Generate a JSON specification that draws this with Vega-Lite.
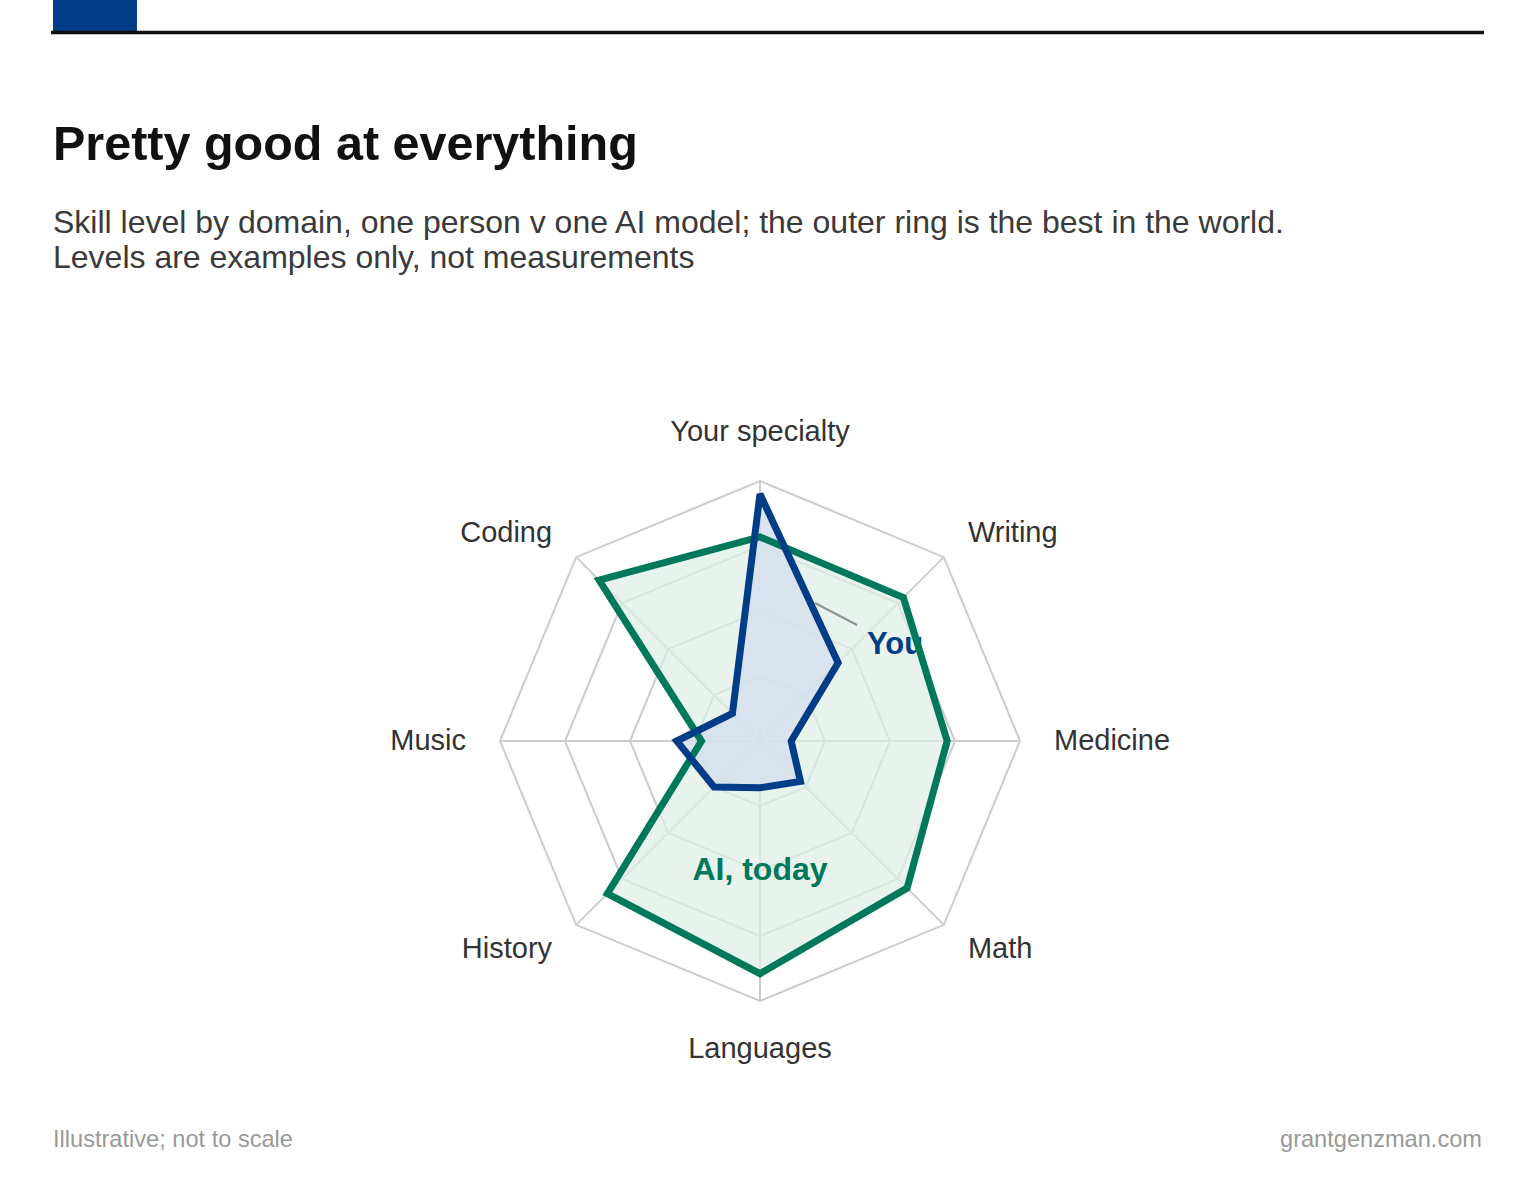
{
  "$schema": "https://vega.github.io/schema/vega-lite/v6.json",
  "width": 1430,
  "height": 860,
  "autosize": {"type": "none"},
  "padding": {"left": 53, "right": 37, "top": 300, "bottom": 20},
  "background": "white",
  "config": {"view": {"stroke": null}, "font": "Liberation Sans"},
  "title": {
    "text": "Pretty good at everything",
    "subtitle": [
      "Skill level by domain, one person v one AI model; the outer ring is the best in the world.",
      "Levels are examples only, not measurements"
    ],
    "anchor": "start",
    "frame": "group",
    "font": "Liberation Sans",
    "fontSize": 48.5,
    "fontWeight": "bold",
    "color": "#111111",
    "subtitleFont": "Liberation Sans",
    "subtitleFontSize": 32,
    "subtitleColor": "#3a3a3a",
    "subtitleLineHeight": 35,
    "subtitlePadding": 38,
    "offset": -275
  },
  "datasets": {
    "skills": [
      {"domain": "Your specialty", "k": 0, "You": 95, "AI": 78.5},
      {"domain": "Writing", "k": 1, "You": 42.5, "AI": 78},
      {"domain": "Medicine", "k": 2, "You": 12, "AI": 72},
      {"domain": "Math", "k": 3, "You": 22, "AI": 80},
      {"domain": "Languages", "k": 4, "You": 18, "AI": 89.5},
      {"domain": "History", "k": 5, "You": 25, "AI": 83},
      {"domain": "Music", "k": 6, "You": 32, "AI": 22.5},
      {"domain": "Coding", "k": 7, "You": 15, "AI": 87.5}
    ],
    "rings": [
      {"k": 0, "ring": 25}, {"k": 1, "ring": 25}, {"k": 2, "ring": 25}, {"k": 3, "ring": 25},
      {"k": 4, "ring": 25}, {"k": 5, "ring": 25}, {"k": 6, "ring": 25}, {"k": 7, "ring": 25},
      {"k": 0, "ring": 50}, {"k": 1, "ring": 50}, {"k": 2, "ring": 50}, {"k": 3, "ring": 50},
      {"k": 4, "ring": 50}, {"k": 5, "ring": 50}, {"k": 6, "ring": 50}, {"k": 7, "ring": 50},
      {"k": 0, "ring": 75}, {"k": 1, "ring": 75}, {"k": 2, "ring": 75}, {"k": 3, "ring": 75},
      {"k": 4, "ring": 75}, {"k": 5, "ring": 75}, {"k": 6, "ring": 75}, {"k": 7, "ring": 75},
      {"k": 0, "ring": 100}, {"k": 1, "ring": 100}, {"k": 2, "ring": 100}, {"k": 3, "ring": 100},
      {"k": 4, "ring": 100}, {"k": 5, "ring": 100}, {"k": 6, "ring": 100}, {"k": 7, "ring": 100}
    ],
    "notes": [
      {"label": "You"},
      {"label": "AI, today"},
      {"label": "Illustrative; not to scale"},
      {"label": "grantgenzman.com"}
    ]
  },
  "layer": [
    {
      "data": {"name": "rings"},
      "transform": [
        {"calculate": "datum.k * PI / 4", "as": "a"},
        {"calculate": "datum.ring * sin(datum.a)", "as": "x"},
        {"calculate": "datum.ring * cos(datum.a)", "as": "y"}
      ],
      "mark": {"type": "line", "interpolate": "linear-closed", "stroke": "#cccccc", "strokeWidth": 2},
      "encoding": {
        "x": {"field": "x", "type": "quantitative", "axis": null,
              "scale": {"domain": [-271.92, 278.08], "nice": false, "zero": false}},
        "y": {"field": "y", "type": "quantitative", "axis": null,
              "scale": {"domain": [-161.15, 169.62], "nice": false, "zero": false}},
        "detail": {"field": "ring"},
        "order": {"field": "k"}
      }
    },
    {
      "data": {"name": "skills"},
      "transform": [
        {"calculate": "datum.k * PI / 4", "as": "a"},
        {"calculate": "100 * sin(datum.a)", "as": "x"},
        {"calculate": "100 * cos(datum.a)", "as": "y"}
      ],
      "mark": {"type": "rule", "stroke": "#cccccc", "strokeWidth": 2},
      "encoding": {
        "x": {"field": "x", "type": "quantitative", "axis": null,
              "scale": {"domain": [-271.92, 278.08], "nice": false, "zero": false}},
        "y": {"field": "y", "type": "quantitative", "axis": null,
              "scale": {"domain": [-161.15, 169.62], "nice": false, "zero": false}},
        "x2": {"datum": 0},
        "y2": {"datum": 0}
      }
    },
    {
      "data": {"name": "skills"},
      "transform": [
        {"calculate": "datum.k * PI / 4", "as": "a"},
        {"calculate": "datum.AI * sin(datum.a)", "as": "x"},
        {"calculate": "datum.AI * cos(datum.a)", "as": "y"}
      ],
      "mark": {"type": "line", "interpolate": "linear-closed", "fill": "#deeee5", "fillOpacity": 0.7, "strokeOpacity": 0},
      "encoding": {
        "x": {"field": "x", "type": "quantitative", "axis": null,
              "scale": {"domain": [-271.92, 278.08], "nice": false, "zero": false}},
        "y": {"field": "y", "type": "quantitative", "axis": null,
              "scale": {"domain": [-161.15, 169.62], "nice": false, "zero": false}},
        "order": {"field": "k"}
      }
    },
    {
      "data": {"name": "skills"},
      "transform": [
        {"calculate": "datum.k * PI / 4", "as": "a"},
        {"calculate": "datum.You * sin(datum.a)", "as": "x"},
        {"calculate": "datum.You * cos(datum.a)", "as": "y"}
      ],
      "mark": {"type": "line", "interpolate": "linear-closed", "fill": "#d3dfec", "fillOpacity": 0.8, "strokeOpacity": 0},
      "encoding": {
        "x": {"field": "x", "type": "quantitative", "axis": null,
              "scale": {"domain": [-271.92, 278.08], "nice": false, "zero": false}},
        "y": {"field": "y", "type": "quantitative", "axis": null,
              "scale": {"domain": [-161.15, 169.62], "nice": false, "zero": false}},
        "order": {"field": "k"}
      }
    },
    {
      "data": {"name": "notes"},
      "transform": [
        {"filter": "datum.label == 'You'"},
        {"calculate": "21.15", "as": "x"},
        {"calculate": "53.08", "as": "y"},
        {"calculate": "37.31", "as": "x2"},
        {"calculate": "44.62", "as": "y2"}
      ],
      "mark": {"type": "rule", "stroke": "#8f8f8f", "strokeWidth": 2},
      "encoding": {
        "x": {"field": "x", "type": "quantitative", "axis": null,
              "scale": {"domain": [-271.92, 278.08], "nice": false, "zero": false}},
        "y": {"field": "y", "type": "quantitative", "axis": null,
              "scale": {"domain": [-161.15, 169.62], "nice": false, "zero": false}},
        "x2": {"field": "x2"},
        "y2": {"field": "y2"}
      }
    },
    {
      "data": {"name": "notes"},
      "transform": [
        {"filter": "datum.label == 'You'"},
        {"calculate": "41.15", "as": "x"},
        {"calculate": "33.46", "as": "y"}
      ],
      "mark": {"type": "text", "align": "left", "baseline": "alphabetic", "font": "Liberation Sans",
               "fontSize": 31, "fontWeight": "bold", "fill": "#003d86"},
      "encoding": {
        "x": {"field": "x", "type": "quantitative", "axis": null,
              "scale": {"domain": [-271.92, 278.08], "nice": false, "zero": false}},
        "y": {"field": "y", "type": "quantitative", "axis": null,
              "scale": {"domain": [-161.15, 169.62], "nice": false, "zero": false}},
        "text": {"field": "label"}
      }
    },
    {
      "data": {"name": "notes"},
      "transform": [
        {"filter": "datum.label == 'AI, today'"},
        {"calculate": "0", "as": "x"},
        {"calculate": "-53.46", "as": "y"}
      ],
      "mark": {"type": "text", "align": "center", "baseline": "alphabetic", "font": "Liberation Sans",
               "fontSize": 32, "fontWeight": "bold", "fill": "#00785a"},
      "encoding": {
        "x": {"field": "x", "type": "quantitative", "axis": null,
              "scale": {"domain": [-271.92, 278.08], "nice": false, "zero": false}},
        "y": {"field": "y", "type": "quantitative", "axis": null,
              "scale": {"domain": [-161.15, 169.62], "nice": false, "zero": false}},
        "text": {"field": "label"}
      }
    },
    {
      "data": {"name": "skills"},
      "transform": [
        {"calculate": "datum.k * PI / 4", "as": "a"},
        {"calculate": "datum.AI * sin(datum.a)", "as": "x"},
        {"calculate": "datum.AI * cos(datum.a)", "as": "y"}
      ],
      "mark": {"type": "line", "interpolate": "linear-closed", "stroke": "#00785a", "strokeWidth": 7, "strokeMiterLimit": 3},
      "encoding": {
        "x": {"field": "x", "type": "quantitative", "axis": null,
              "scale": {"domain": [-271.92, 278.08], "nice": false, "zero": false}},
        "y": {"field": "y", "type": "quantitative", "axis": null,
              "scale": {"domain": [-161.15, 169.62], "nice": false, "zero": false}},
        "order": {"field": "k"}
      }
    },
    {
      "data": {"name": "skills"},
      "transform": [
        {"calculate": "datum.k * PI / 4", "as": "a"},
        {"calculate": "datum.You * sin(datum.a)", "as": "x"},
        {"calculate": "datum.You * cos(datum.a)", "as": "y"}
      ],
      "mark": {"type": "line", "interpolate": "linear-closed", "stroke": "#003d86", "strokeWidth": 7, "strokeMiterLimit": 3},
      "encoding": {
        "x": {"field": "x", "type": "quantitative", "axis": null,
              "scale": {"domain": [-271.92, 278.08], "nice": false, "zero": false}},
        "y": {"field": "y", "type": "quantitative", "axis": null,
              "scale": {"domain": [-161.15, 169.62], "nice": false, "zero": false}},
        "order": {"field": "k"}
      }
    },
    {
      "data": {"name": "skills"},
      "transform": [
        {"calculate": "datum.k * PI / 4", "as": "a"},
        {"calculate": "113.08 * sin(datum.a)", "as": "x"},
        {"calculate": "113.08 * cos(datum.a)", "as": "y"}
      ],
      "mark": {
        "type": "text", "font": "Liberation Sans", "fontSize": 29, "fill": "#333333",
        "align": {"expr": "datum.k == 0 || datum.k == 4 ? 'center' : (datum.k < 4 ? 'left' : 'right')"},
        "baseline": {"expr": "datum.k == 0 ? 'bottom' : (datum.k == 4 ? 'top' : 'middle')"}
      },
      "encoding": {
        "x": {"field": "x", "type": "quantitative", "axis": null,
              "scale": {"domain": [-271.92, 278.08], "nice": false, "zero": false}},
        "y": {"field": "y", "type": "quantitative", "axis": null,
              "scale": {"domain": [-161.15, 169.62], "nice": false, "zero": false}},
        "text": {"field": "domain"}
      }
    },
    {
      "data": {"name": "notes"},
      "transform": [
        {"filter": "datum.label == 'Illustrative; not to scale'"},
        {"calculate": "-271.92", "as": "x"},
        {"calculate": "-156.15", "as": "y"}
      ],
      "mark": {"type": "text", "align": "left", "baseline": "alphabetic", "font": "Liberation Sans",
               "fontSize": 23.6, "fill": "#999999"},
      "encoding": {
        "x": {"field": "x", "type": "quantitative", "axis": null,
              "scale": {"domain": [-271.92, 278.08], "nice": false, "zero": false}},
        "y": {"field": "y", "type": "quantitative", "axis": null,
              "scale": {"domain": [-161.15, 169.62], "nice": false, "zero": false}},
        "text": {"field": "label"}
      }
    },
    {
      "data": {"name": "notes"},
      "transform": [
        {"filter": "datum.label == 'grantgenzman.com'"},
        {"calculate": "277.69", "as": "x"},
        {"calculate": "-156.15", "as": "y"}
      ],
      "mark": {"type": "text", "align": "right", "baseline": "alphabetic", "font": "Liberation Sans",
               "fontSize": 23.6, "fill": "#999999"},
      "encoding": {
        "x": {"field": "x", "type": "quantitative", "axis": null,
              "scale": {"domain": [-271.92, 278.08], "nice": false, "zero": false}},
        "y": {"field": "y", "type": "quantitative", "axis": null,
              "scale": {"domain": [-161.15, 169.62], "nice": false, "zero": false}},
        "text": {"field": "label"}
      }
    },
    {
      "data": {"name": "notes"},
      "transform": [
        {"filter": "datum.label == 'grantgenzman.com'"},
        {"calculate": "-271.92", "as": "x"},
        {"calculate": "-239.62", "as": "x2"},
        {"calculate": "285", "as": "y"},
        {"calculate": "273.08", "as": "y2"}
      ],
      "mark": {"type": "rect", "fill": "#003d86"},
      "encoding": {
        "x": {"field": "x", "type": "quantitative", "axis": null,
              "scale": {"domain": [-271.92, 278.08], "nice": false, "zero": false}},
        "y": {"field": "y", "type": "quantitative", "axis": null,
              "scale": {"domain": [-161.15, 169.62], "nice": false, "zero": false}},
        "x2": {"field": "x2"},
        "y2": {"field": "y2"}
      }
    },
    {
      "data": {"name": "notes"},
      "transform": [
        {"filter": "datum.label == 'grantgenzman.com'"},
        {"calculate": "-272.69", "as": "x"},
        {"calculate": "278.46", "as": "x2"},
        {"calculate": "272.5", "as": "y"}
      ],
      "mark": {"type": "rule", "stroke": "#111111", "strokeWidth": 3.5},
      "encoding": {
        "x": {"field": "x", "type": "quantitative", "axis": null,
              "scale": {"domain": [-271.92, 278.08], "nice": false, "zero": false}},
        "y": {"field": "y", "type": "quantitative", "axis": null,
              "scale": {"domain": [-161.15, 169.62], "nice": false, "zero": false}},
        "x2": {"field": "x2"}
      }
    }
  ]
}
